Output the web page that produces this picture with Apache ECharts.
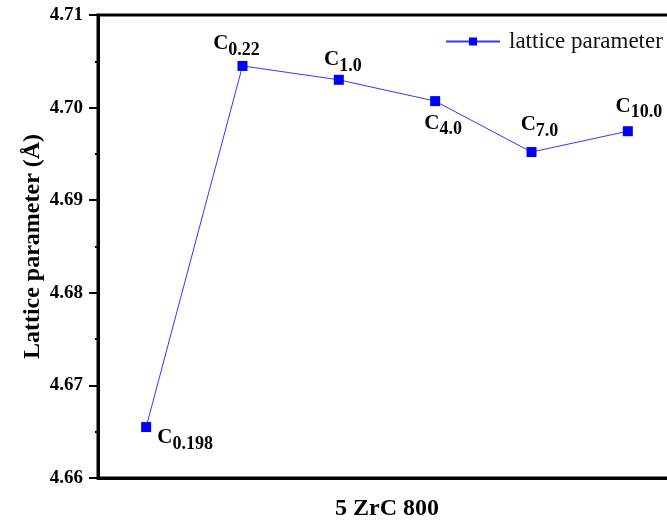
<!DOCTYPE html>
<html>
<head>
<meta charset="utf-8">
<script src="https://cdn.jsdelivr.net/npm/echarts@6/dist/echarts.min.js"></script>
<style>
  html, body { margin: 0; padding: 0; background: #fff; }
  #chart { width: 667px; height: 527px; }
</style>
</head>
<body>
<div id="chart"></div>
<script>
// Carbon content of each sample (shown as subscript of C)
const samples = ['0.198', '0.22', '1.0', '4.0', '7.0', '10.0'];
// Lattice parameter in ångström
const latticeParameter = [4.6655, 4.7045, 4.7030, 4.7007, 4.6952, 4.69745];
// Y-axis range and step
const yMin = 4.66;
const yMax = 4.71;
const yStep = 0.01;

// Where each C-label sits relative to its marker (pixels)
const labelOffsets = [[39, 11], [-6, -22], [4, -20], [8, 22], [8, -27], [11, -25]];

const serif = '"Liberation Serif", "Times New Roman", serif';

const chart = echarts.init(document.getElementById('chart'), null, { renderer: 'canvas' });

const seriesData = latticeParameter.map((v, i) => ({
  value: v,
  label: {
    show: true,
    position: 'inside',
    offset: labelOffsets[i],
    color: '#000',
    formatter: '{c|C}{s|' + samples[i] + '}',
    rich: {
      c: { fontFamily: serif, fontWeight: 'bold', fontSize: 21, color: '#000', verticalAlign: 'top', lineHeight: 21 },
      s: { fontFamily: serif, fontWeight: 'bold', fontSize: 18, color: '#000', verticalAlign: 'top', lineHeight: 18, padding: [8, 0, 0, 0] }
    }
  }
}));

chart.setOption({
  animation: false,
  backgroundColor: '#fff',
  grid: {
    left: 98, top: 15, width: 578, height: 463,
    outerBoundsMode: 'none',
    containLabel: false,
    show: true, borderColor: '#000', borderWidth: 3, backgroundColor: 'transparent'
  },
  legend: {
    left: 440, top: 25,
    itemWidth: 54, itemHeight: 10, itemGap: 0,
    textStyle: { fontFamily: serif, fontSize: 23, color: '#111', padding: [0, 0, 0, 4] },
    data: ['lattice parameter']
  },
  xAxis: {
    type: 'category',
    data: samples,
    boundaryGap: true,
    name: '5 ZrC 800',
    nameLocation: 'middle',
    nameGap: 19,
    nameMoveOverlap: false,
    nameTextStyle: { fontFamily: serif, fontWeight: 'bold', fontSize: 24, color: '#000' },
    axisLine: { show: true, lineStyle: { color: '#000', width: 3 } },
    axisTick: { show: false },
    axisLabel: { show: false },
    splitLine: { show: false }
  },
  yAxis: {
    type: 'value',
    min: yMin, max: yMax, interval: yStep,
    name: 'Lattice parameter (Å)',
    nameLocation: 'middle',
    nameGap: 53,
    nameMoveOverlap: false,
    nameTextStyle: { fontFamily: serif, fontWeight: 'bold', fontSize: 24, color: '#000' },
    axisLine: { show: true, lineStyle: { color: '#000', width: 3 } },
    axisTick: { show: true, inside: false, length: 9, lineStyle: { color: '#000', width: 2 } },
    minorTick: { show: true, splitNumber: 2, length: 3, lineStyle: { color: '#000', width: 2 } },
    axisLabel: {
      fontFamily: serif, fontWeight: 'bold', fontSize: 19, color: '#000', margin: 15,
      formatter: v => v.toFixed(2)
    },
    splitLine: { show: false }
  },
  series: [{
    name: 'lattice parameter',
    type: 'line',
    data: seriesData,
    symbol: 'rect',
    symbolSize: 10,
    itemStyle: { color: '#0000ff' },
    lineStyle: { color: '#3535ff', width: 1 },
    emphasis: { disabled: true }
  }]
});
</script>
</body>
</html>
